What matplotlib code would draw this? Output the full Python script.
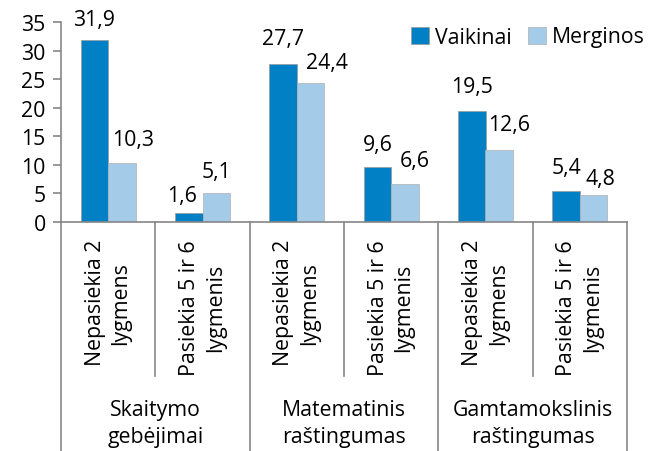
import matplotlib
matplotlib.use("Agg")
import matplotlib.pyplot as plt
import numpy as np

plt.rcParams['font.family'] = ['Open Sans', 'DejaVu Sans']

sub_labels = ["Nepasiekia 2\nlygmens", "Pasiekia 5 ir 6\nlygmenis"] * 3
groups = ["Skaitymo\ngebėjimai", "Matematinis\nraštingumas", "Gamtamokslinis\nraštingumas"]
vaikinai = [31.9, 1.6, 27.7, 9.6, 19.5, 5.4]
merginos = [10.3, 5.1, 24.4, 6.6, 12.6, 4.8]

# label nudges in px (dx, dy of text centre from bar top), hand placed like the original
nudge_v = [(0, 20), (-7, 17), (0, 25), (0, 23), (0, 24), (0, 24)]
nudge_m = [(11, 24), (0, 21), (16, 20), (10, 24), (10, 25), (7, 16)]

dark = "#0280C6"
light = "#A4CBE8"
grey = "#868686"
fs = 15.3

fig = plt.figure(figsize=(6.49, 4.52), dpi=100)
ax = fig.add_axes([61/649, 1 - 223/452, 566/649, 200/452])

x = np.arange(len(vaikinai))
w = 0.29
b1 = ax.bar(x - w/2, vaikinai, w, color=dark, edgecolor="#9a9a9a", linewidth=0.5, label="Vaikinai")
b2 = ax.bar(x + w/2, merginos, w, color=light, edgecolor="#b0b0b0", linewidth=0.5, label="Merginos")

px = 72 / 100
for bars, vals, nud in [(b1, vaikinai, nudge_v), (b2, merginos, nudge_m)]:
    for r, v, (dx, dy) in zip(bars, vals, nud):
        ax.annotate(f"{v:.1f}".replace(".", ","), (r.get_x() + r.get_width()/2, v),
                    xytext=(dx*px, dy*px), textcoords="offset points",
                    ha="center", va="center", fontsize=fs)

ax.set_xlim(-0.5, 5.5)
ax.set_ylim(0, 35)
ax.set_yticks(range(0, 36, 5))
ax.set_xticks([])
for s in ["top", "right"]:
    ax.spines[s].set_visible(False)
for s in ["left", "bottom"]:
    ax.spines[s].set_color(grey)
    ax.spines[s].set_linewidth(1.2)
ax.tick_params(axis="y", length=6, width=1.2, color=grey, pad=5, labelsize=fs)

tr = ax.get_xaxis_transform()
for i in range(7):
    xv = i - 0.5
    bottom = -1.15 if i % 2 == 0 else -0.77
    ax.plot([xv, xv], [0, bottom], color=grey, lw=1.2, transform=tr, clip_on=False)

for i, lab in enumerate(sub_labels):
    ax.text(i, -0.085, lab, transform=tr, rotation=90, ha="center", va="top",
            multialignment="center", fontsize=fs, linespacing=1.3)

for g, lab in enumerate(groups):
    ax.text(2*g + 0.5, -1.005, lab, transform=tr, ha="center", va="center",
            fontsize=fs, linespacing=1.36)

fig.legend(handles=[b1, b2], loc="center left", bbox_to_anchor=(411/649, 1 - 38/452),
           ncol=2, frameon=False, fontsize=fs, handlelength=0.85, handleheight=0.85,
           handletextpad=0.28, columnspacing=0.75, borderpad=0, borderaxespad=0)

fig.savefig("out.png", dpi=100)
